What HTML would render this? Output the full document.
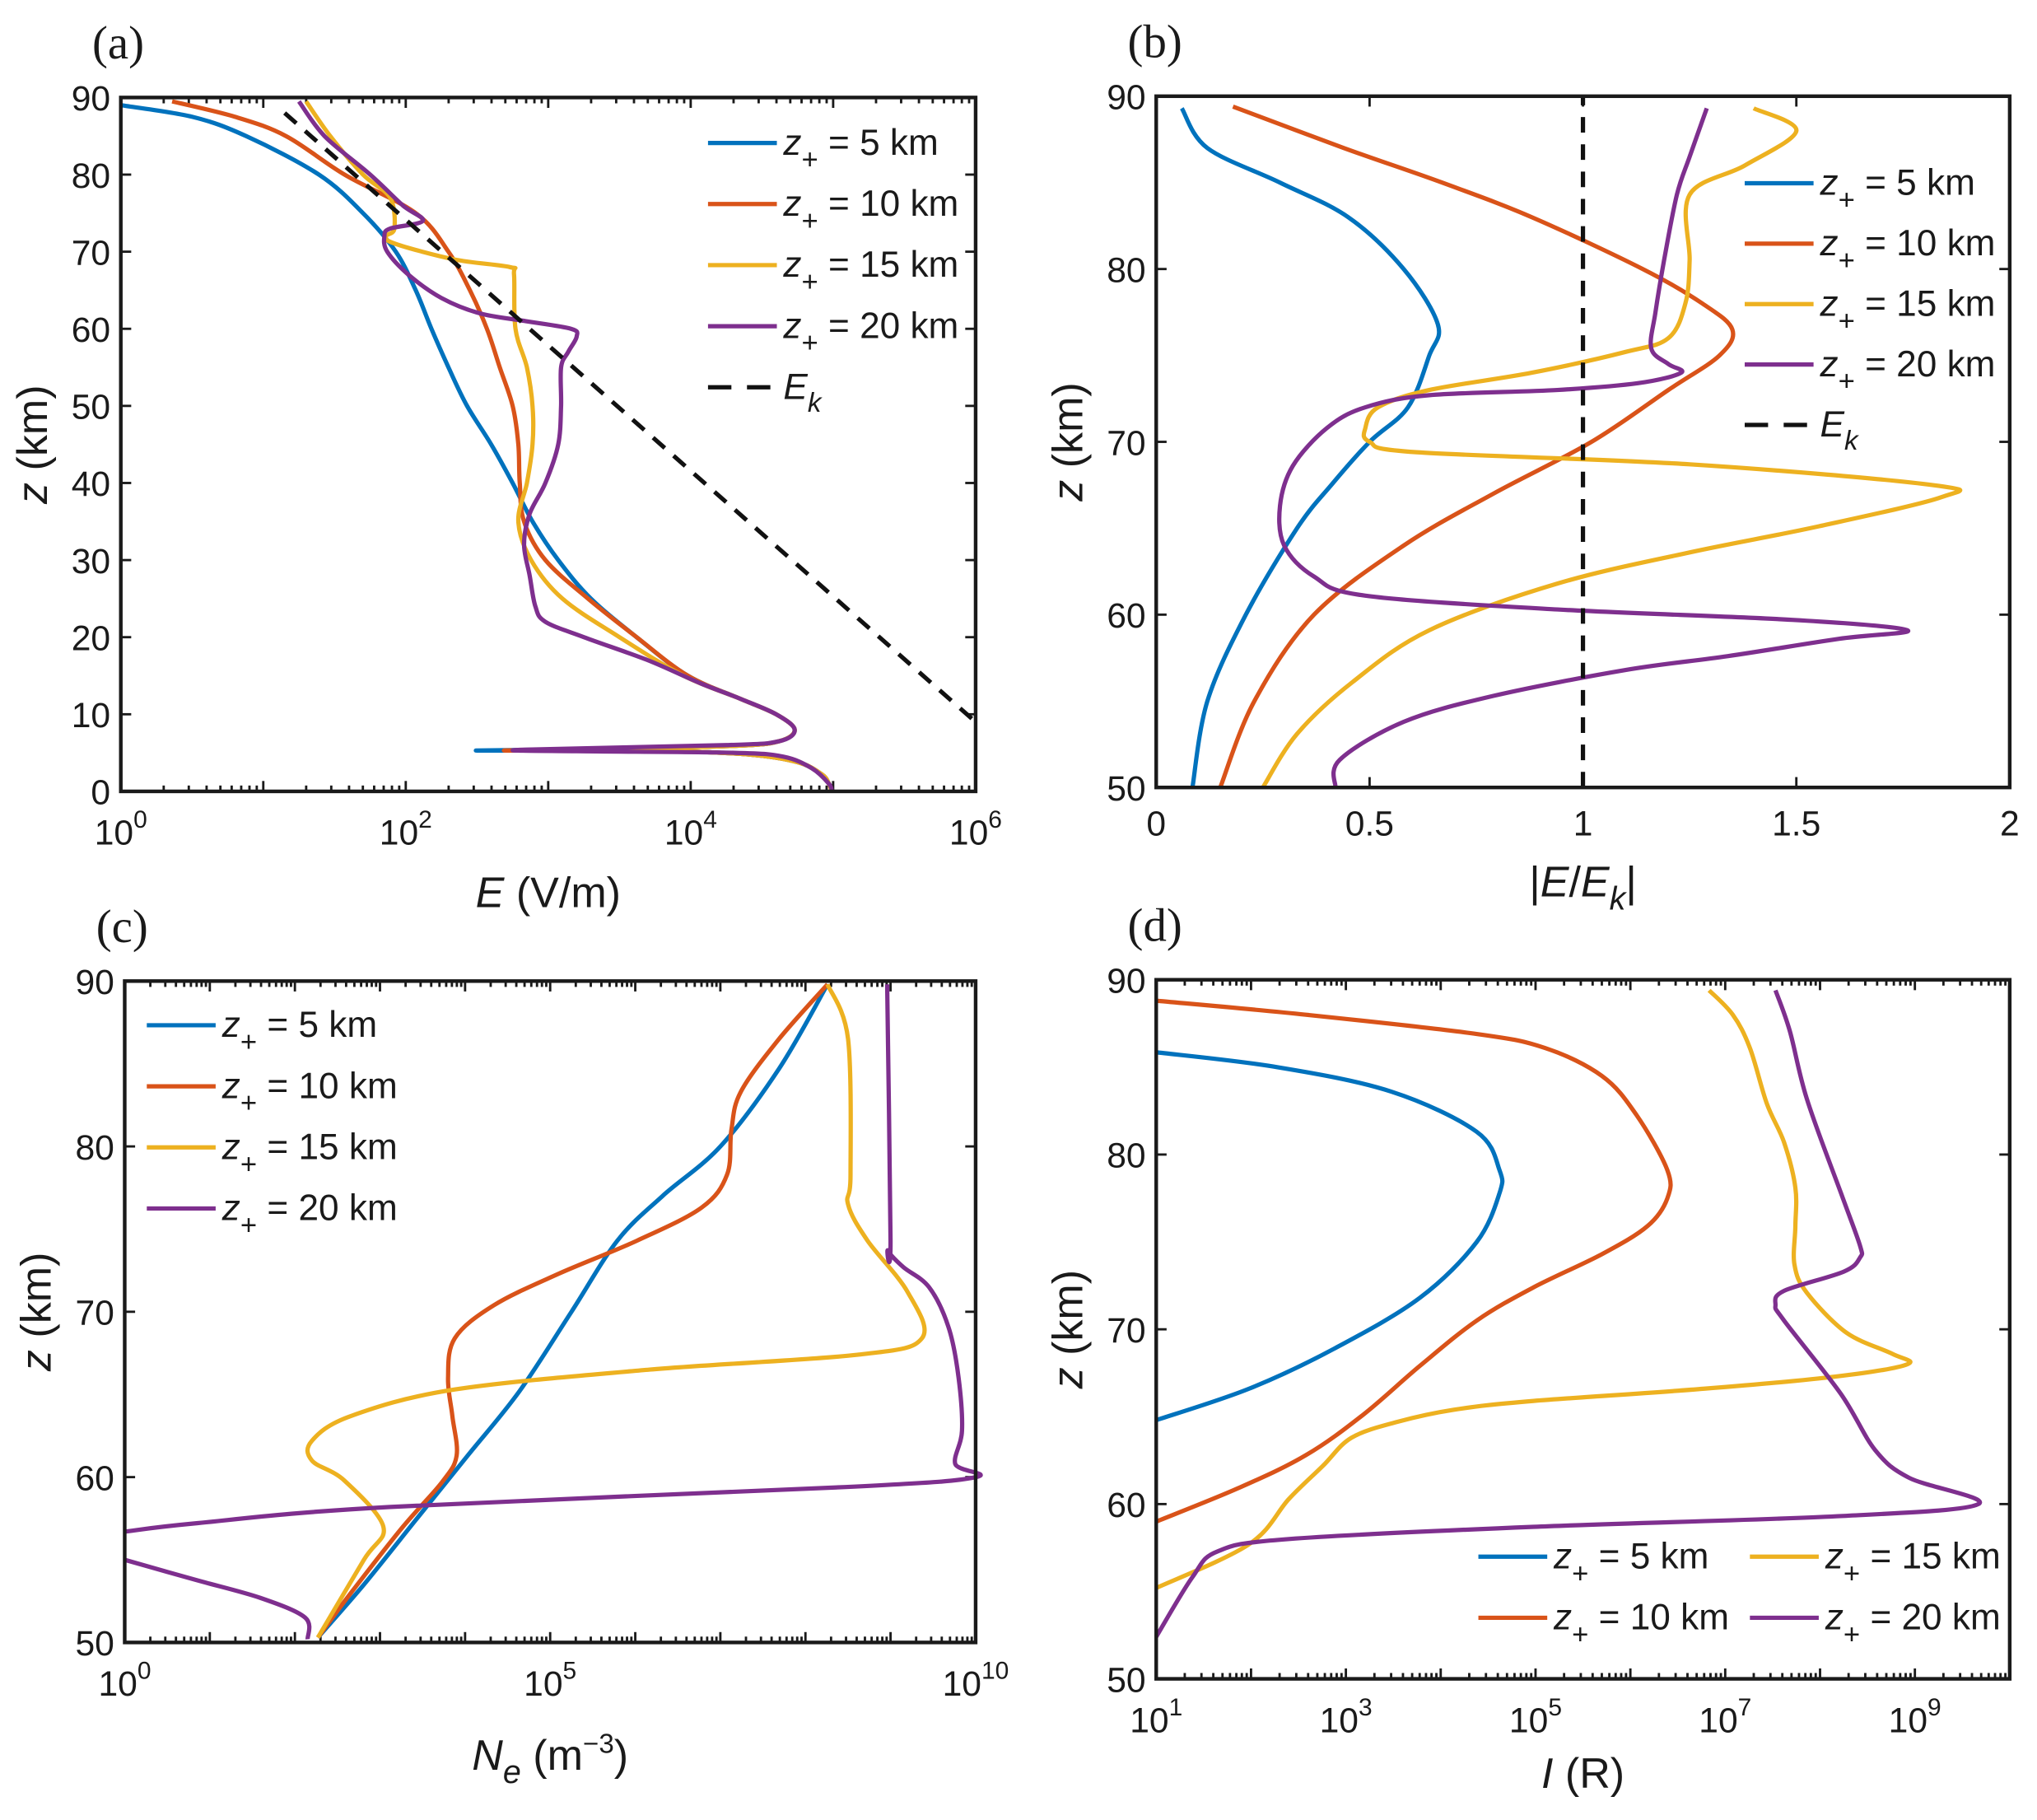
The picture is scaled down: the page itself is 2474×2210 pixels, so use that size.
<!DOCTYPE html>
<html><head><meta charset="utf-8">
<style>
html,body{margin:0;padding:0;background:#fff;}
svg{display:block;}
text{font-family:"Liberation Sans",sans-serif;fill:#1a1a1a;}
</style></head>
<body>
<svg id="fig" width="2474" height="2210" viewBox="0 0 1568 1400.6" xmlns="http://www.w3.org/2000/svg"></svg>
<script>
// ---------- DATA ----------
const zTicksA = [0,10,20,30,40,50,60,70,80,90];
const zTicksB = [50,60,70,80,90];
const xTicksA = [0,2,4,6];
const xTicksB = [0,0.5,1,1.5,2];
const xTicksBLabels = ["0","0.5","1","1.5","2"];
const xTicksC = [0,5,10];
const xTicksD = [1,3,5,7,9];
const seriesNames = ["5 km","10 km","15 km","20 km"];
const seriesColors = ["#0072BD","#D95319","#EDB120","#7E2F8E"];

// Panel (a): [log10 E, z]
const aBottom = [[3.8,5.3],[4.4,4.8],[4.75,3.8],[4.92,2.2],[4.97,1],[4.99,0]];
const aBlue = [[0,89],[0.5,87.5],[0.88,85],[1.39,80],[1.7,75],[1.93,70],[2.07,65],[2.18,60],[2.3,55],[2.43,50],[2.6,45],[2.75,40],[2.89,35],[3.07,30],[3.3,25],[3.62,20],[3.98,15],[4.35,12],[4.6,10],[4.73,8],[4.62,6.5],[4.3,5.9],[3.3,5.5],[2.5,5.3],[3.8,5.3]];
const aRed = [[0.36,89.5],[0.8,87.5],[1.16,85],[1.57,80],[2.07,75],[2.3,70],[2.45,65],[2.57,60],[2.66,55],[2.75,50],[2.79,45],[2.8,40],[2.83,35],[2.98,30],[3.28,25],[3.62,20],[3.98,15],[4.35,12],[4.6,10],[4.73,8],[4.62,6.5],[4.3,5.9],[3.3,5.5],[2.7,5.3],[3.8,5.3]];
const aYellow = [[1.3,89.5],[1.47,85],[1.7,80],[1.89,77],[1.92,73],[1.86,72],[1.93,71],[2.34,69],[2.73,68],[2.76,67],[2.77,60],[2.85,55],[2.89,50],[2.89,45],[2.85,40],[2.79,35],[2.88,30],[3.1,25],[3.5,20],[3.95,15],[4.35,12],[4.6,10],[4.73,8],[4.62,6.5],[4.3,5.9],[3.3,5.5],[2.9,5.3],[3.8,5.3]];
const aPurple = [[1.25,89.5],[1.43,85],[1.75,80],[1.98,76],[2.12,74],[1.89,73],[1.85,72],[1.87,70],[2.02,67],[2.25,64],[2.52,62],[2.84,61],[3.16,60],[3.2,59],[3.14,57],[3.09,55],[3.09,50],[3.07,45],[2.98,40],[2.87,36],[2.83,32],[2.87,28],[2.91,24],[2.98,22],[3.25,20],[3.7,17],[4.07,14],[4.35,12],[4.6,10],[4.73,8],[4.62,6.5],[4.25,6],[2.8,5.4],[3.2,5.2],[4.3,5],[4.65,4.5],[4.85,3],[4.97,1],[4.99,0]];
const ekLogE = [1.15,6];
const ekZ = [88,9];

// Panel (b): [|E/Ek|, z]
const bBlue = [[0.06,89.3],[0.12,87],[0.29,85],[0.45,83],[0.58,80],[0.66,76.8],[0.64,75],[0.59,72],[0.5,70],[0.41,67.5],[0.33,65],[0.21,60],[0.12,55],[0.085,50]];
const bRed = [[0.18,89.4],[0.44,87],[0.67,85],[0.88,83],[1.14,80],[1.28,78],[1.35,76.5],[1.32,75],[1.2,73],[1.02,70],[0.79,67],[0.58,64],[0.37,60],[0.23,55],[0.15,50]];
const bYellow = [[1.4,89.3],[1.5,88],[1.38,86],[1.25,84.3],[1.25,80.5],[1.24,78],[1.2,76],[1.1,75.2],[0.88,74],[0.64,73],[0.52,72],[0.49,70.8],[0.5,70],[0.61,69.4],[1.25,68.7],[1.82,67.5],[1.84,66.8],[1.55,65.1],[1.25,63.6],[0.94,61.8],[0.64,59.1],[0.46,56.1],[0.33,53.1],[0.25,50]];
const bPurple = [[1.29,89.3],[1.25,86.5],[1.22,84.3],[1.19,80.5],[1.17,77.5],[1.16,75.4],[1.2,74.5],[1.23,74],[1.13,73.4],[0.94,73],[0.64,72.7],[0.49,72],[0.4,70.8],[0.32,68.6],[0.29,66.3],[0.3,64],[0.37,62.2],[0.49,61.1],[0.94,60.3],[1.49,59.7],[1.76,59.1],[1.6,58.6],[1.34,57.6],[1.1,56.8],[0.79,55.3],[0.58,53.8],[0.43,51.6],[0.42,50]];
const ekRatio = [1,1];
const ekRatioZ = [50,90];

// Panel (c): [log10 Ne, z]
const cBlue = [[8.26,89.8],[7.69,84.7],[7.0,80],[6.32,77],[5.79,74.3],[5.25,70],[4.64,65.2],[4.03,61.3],[3.42,57.4],[2.81,53.5],[2.27,50.3]];
const cRed = [[8.26,89.8],[7.69,86.5],[7.24,83.3],[7.13,81],[7.08,78.3],[6.78,76.3],[6.02,74.3],[5.1,72.3],[4.34,70.4],[3.88,68.4],[3.8,66],[3.85,63.7],[3.9,61.3],[3.73,59.7],[3.27,57],[2.66,53],[2.27,50.3]];
const cYellow = [[8.26,89.8],[8.5,86.5],[8.53,78.3],[8.5,76.5],[8.73,74.3],[9.2,71.2],[9.37,68.4],[8.61,67.4],[6.17,66.5],[3.88,65.3],[2.66,63.7],[2.2,62.2],[2.2,61],[2.58,59.8],[3.04,57],[2.81,55],[2.27,50.3]];
const cPurple = [[8.96,89.8],[9.0,74.3],[8.97,73.7],[9.15,72.7],[9.45,71.5],[9.68,69.1],[9.8,66],[9.84,62.8],[9.76,60.8],[10,60],[8.47,59.4],[3.12,58.2],[0.82,57.2],[0,56.7],null,[0,55],[0.82,53.8],[1.59,52.7],[2.12,51.5],[2.15,50.2]];

// Panel (d): [log10 I, z]
const dBlue = [[1,85.85],[2.28,85],[3.48,83.6],[4.38,81.3],[4.62,79.1],[4.62,77.8],[4.38,75],[3.78,71.8],[2.88,68.9],[1.98,66.6],[1,64.8]];
const dRed = [[1,88.8],[2.58,88],[4.38,86.9],[5.1,86.1],[5.7,84.5],[6.06,82.3],[6.39,79.1],[6.39,77.5],[6.18,75.9],[5.7,74.3],[4.98,72.4],[4.38,70.5],[3.78,67.9],[3.18,65.1],[2.58,62.8],[1.86,60.9],[1,59]];
const dYellow = [[6.83,89.4],[7.08,88],[7.26,86.1],[7.44,82.9],[7.62,80.7],[7.74,78.1],[7.74,75.9],[7.73,73.7],[7.86,72.1],[8.28,69.8],[8.76,68.6],[8.92,68],[8.17,67.3],[6.78,66.6],[4.98,65.9],[4.14,65.4],[3.54,64.7],[3.06,63.8],[2.76,62.2],[2.4,60.3],[1.98,57.7],[1,55.2]];
const dPurple = [[7.53,89.4],[7.68,87.1],[7.86,83.2],[8.22,77.8],[8.42,74.8],[8.42,74.1],[8.25,73.3],[7.62,72.2],[7.53,71.4],[7.62,70.5],[8.22,66.3],[8.58,63.1],[8.94,61.5],[9.67,60],[8.17,59.3],[4.98,58.7],[2.4,58],[1.65,57.3],[1.38,55.8],[1,52.4]];

// ---------- DRAWING ----------
const NS = "http://www.w3.org/2000/svg";
const svg = document.getElementById('fig');
function mk(tag, attrs, parent){ const e=document.createElementNS(NS,tag); for(const k in attrs) e.setAttribute(k,attrs[k]); (parent||svg).appendChild(e); return e; }

function smoothPath(pts){
  // centripetal-ish Catmull-Rom with reduced tension
  if(pts.length<2) return '';
  let d='M'+pts[0][0].toFixed(1)+' '+pts[0][1].toFixed(1);
  const t=0.5/3;
  for(let i=0;i<pts.length-1;i++){
    const p0=pts[Math.max(0,i-1)],p1=pts[i],p2=pts[i+1],p3=pts[Math.min(pts.length-1,i+2)];
    const c1=[p1[0]+(p2[0]-p0[0])*t, p1[1]+(p2[1]-p0[1])*t];
    const c2=[p2[0]-(p3[0]-p1[0])*t, p2[1]-(p3[1]-p1[1])*t];
    d+=' C'+c1[0].toFixed(1)+' '+c1[1].toFixed(1)+' '+c2[0].toFixed(1)+' '+c2[1].toFixed(1)+' '+p2[0].toFixed(1)+' '+p2[1].toFixed(1);
  }
  return d;
}

function panel(cfg){
  const g = mk('g',{});
  
  
  const sx = v => cfg.x0 + (v-cfg.xmin)/(cfg.xmax-cfg.xmin)*(cfg.x1-cfg.x0);
  const sy = v => cfg.y1 - (v-cfg.zmin)/(cfg.zmax-cfg.zmin)*(cfg.y1-cfg.y0);
  const tl = 8, tg = mk('g',{stroke:'#1a1a1a','stroke-width':1.8},g);
  
  
  cfg.xticks.forEach((t,i)=>{
    const x=sx(t);
    mk('line',{x1:x,y1:cfg.y1,x2:x,y2:cfg.y1-tl},tg); mk('line',{x1:x,y1:cfg.y0,x2:x,y2:cfg.y0+tl},tg);
    const tx = mk('text',{x:x,y:cfg.y1+(cfg.log?41:37),'font-size':27,'text-anchor':'middle'},g);
    
    
    if(cfg.log){ tx.textContent='10'; const s=mk('tspan',{dy:-13,'font-size':19},tx); s.textContent=String(t); }
    else tx.textContent = cfg.xlabels[i];
  });
  if(cfg.log){
    for(let d=Math.floor(cfg.xmin); d<cfg.xmax; d++){
      for(let k=2;k<=9;k++){ const v=d+Math.log10(k); if(v<=cfg.xmin||v>=cfg.xmax) continue; const x=sx(v);
        mk('line',{x1:x,y1:cfg.y1,x2:x,y2:cfg.y1-4.5},tg); mk('line',{x1:x,y1:cfg.y0,x2:x,y2:cfg.y0+4.5},tg); }
      if(cfg.xticks.indexOf(d)<0 && d>cfg.xmin){ const x=sx(d); mk('line',{x1:x,y1:cfg.y1,x2:x,y2:cfg.y1-tl},tg); mk('line',{x1:x,y1:cfg.y0,x2:x,y2:cfg.y0+tl},tg); }
    }
  }
  cfg.zticks.forEach(t=>{
    const y=sy(t);
    mk('line',{x1:cfg.x0,y1:y,x2:cfg.x0+tl,y2:y},tg); mk('line',{x1:cfg.x1,y1:y,x2:cfg.x1-tl,y2:y},tg);
    const tx=mk('text',{x:cfg.x0-8,y:y+10,'font-size':27,'text-anchor':'end'},g);
    
    
    tx.textContent=String(t);
  });
  cfg.series.forEach((s,i)=>{
    let d=''; let seg=[];
    const flush=()=>{ if(seg.length) d+=(s.dash?('M'+seg.map(p=>p[0].toFixed(1)+' '+p[1].toFixed(1)).join(' L')):smoothPath(seg))+' '; seg=[]; };
    s.data.forEach(p=>{ if(!p){flush();return;} seg.push([sx(p[0]),sy(p[1])]); });
    flush();
    const path=mk('path',{d:d,fill:'none',stroke:s.color,'stroke-width':3.3,'stroke-linejoin':'round','stroke-linecap':'butt','stroke-dasharray':s.dash||'none'},g);
    
    
  });
  const box=mk('rect',{x:cfg.x0,y:cfg.y0,width:cfg.x1-cfg.x0,height:cfg.y1-cfg.y0,fill:'none',stroke:'#1a1a1a','stroke-width':2.8},g);
  
  
  const pl=mk('text',{x:cfg.x0-22,y:cfg.y0-30,'font-size':36,style:'font-family:"Liberation Serif",serif'},g);
  
  
  pl.textContent='('+cfg.id+')';
  const yl=mk('text',{x:0,y:0,'font-size':33,'text-anchor':'middle',transform:`translate(${cfg.x0-57},${(cfg.y0+cfg.y1)/2}) rotate(-90)`},g);
  
  
  yl.innerHTML='<tspan font-style="italic">z</tspan> (km)';
  const xl=mk('text',{x:(cfg.x0+cfg.x1)/2,y:cfg.xlabY,'font-size':33,'text-anchor':'middle'},g);
  
  
  xl.innerHTML=cfg.xlabel;
  cfg.legend.forEach(L=>{
    const lg=mk('g',{},g);
    
    
    mk('line',{x1:L.x,y1:L.y,x2:L.x+53,y2:L.y,stroke:L.color,'stroke-width':3.3,'stroke-dasharray':L.dash||'none'},lg);
    const t=mk('text',{x:L.x+58,y:L.y+9,'font-size':28},lg);
    if(L.ek) t.innerHTML='<tspan font-style="italic">E</tspan><tspan font-style="italic" font-size="21" dy="10">k</tspan>';
    else t.innerHTML='<tspan font-style="italic">z</tspan><tspan font-size="22" dy="11">+</tspan><tspan dy="-11"> = '+L.label+'</tspan>';
  });
}
function legend4(x,y,dy){ return seriesNames.map((n,i)=>({x:x,y:y+i*dy,color:seriesColors[i],label:n})); }

panel({id:'a',x0:93,x1:751,y0:75,y1:609,xmin:0,xmax:6,zmin:0,zmax:90,log:true,xticks:xTicksA,zticks:zTicksA,xlabY:698,
  xlabel:'<tspan font-style="italic">E</tspan> (V/m)',
  series:[{name:'5km',data:aBlue.concat(aBottom),color:seriesColors[0]},{name:'10km',data:aRed.concat(aBottom),color:seriesColors[1]},{name:'15km',data:aYellow.concat(aBottom),color:seriesColors[2]},{name:'20km',data:aPurple,color:seriesColors[3]},
    {name:'ek',data:[[ekLogE[0],ekZ[0]],[ekLogE[1],ekZ[1]]],color:'#111',dash:'12 9'}],
  legend:legend4(545,110,47).concat([{x:545,y:298,color:'#111',dash:'18 12',ek:true}])});

panel({id:'b',x0:890,x1:1547,y0:74,y1:606,xmin:0,xmax:2,zmin:50,zmax:90,log:false,xticks:xTicksB,xlabels:xTicksBLabels,zticks:zTicksB,xlabY:690,
  xlabel:'|<tspan font-style="italic">E</tspan>/<tspan font-style="italic">E</tspan><tspan font-style="italic" font-size="25" dy="10">k</tspan><tspan dy="-10">|</tspan>',
  series:[{name:'5km',data:bBlue,color:seriesColors[0]},{name:'10km',data:bRed,color:seriesColors[1]},{name:'15km',data:bYellow,color:seriesColors[2]},{name:'20km',data:bPurple,color:seriesColors[3]},
    {name:'ek',data:[[ekRatio[0],ekRatioZ[0]],[ekRatio[1],ekRatioZ[1]]],color:'#111',dash:'12 9'}],
  legend:legend4(1343,141,46.5).concat([{x:1343,y:327,color:'#111',dash:'18 12',ek:true}])});

panel({id:'c',x0:96,x1:751,y0:755,y1:1264,xmin:0,xmax:10,zmin:50,zmax:90,log:true,xticks:xTicksC,zticks:zTicksB,xlabY:1362,
  xlabel:'<tspan font-style="italic">N</tspan><tspan font-style="italic" font-size="25" dy="10">e</tspan><tspan dy="-10"> (m</tspan><tspan font-size="21" dy="-13">−3</tspan><tspan dy="13">)</tspan>',
  series:[{name:'5km',data:cBlue,color:seriesColors[0]},{name:'10km',data:cRed,color:seriesColors[1]},{name:'15km',data:cYellow,color:seriesColors[2]},{name:'20km',data:cPurple,color:seriesColors[3]}],
  legend:legend4(113,789,47)});

panel({id:'d',x0:890,x1:1547,y0:754,y1:1292,xmin:1,xmax:10,zmin:50,zmax:90,log:true,xticks:xTicksD,zticks:zTicksB,xlabY:1376,
  xlabel:'<tspan font-style="italic">I</tspan> (R)',
  series:[{name:'5km',data:dBlue,color:seriesColors[0]},{name:'10km',data:dRed,color:seriesColors[1]},{name:'15km',data:dYellow,color:seriesColors[2]},{name:'20km',data:dPurple,color:seriesColors[3]}],
  legend:[{x:1138,y:1198,color:seriesColors[0],label:seriesNames[0]},{x:1138,y:1245,color:seriesColors[1],label:seriesNames[1]},{x:1347,y:1198,color:seriesColors[2],label:seriesNames[2]},{x:1347,y:1245,color:seriesColors[3],label:seriesNames[3]}]});
</script>
</body></html>
